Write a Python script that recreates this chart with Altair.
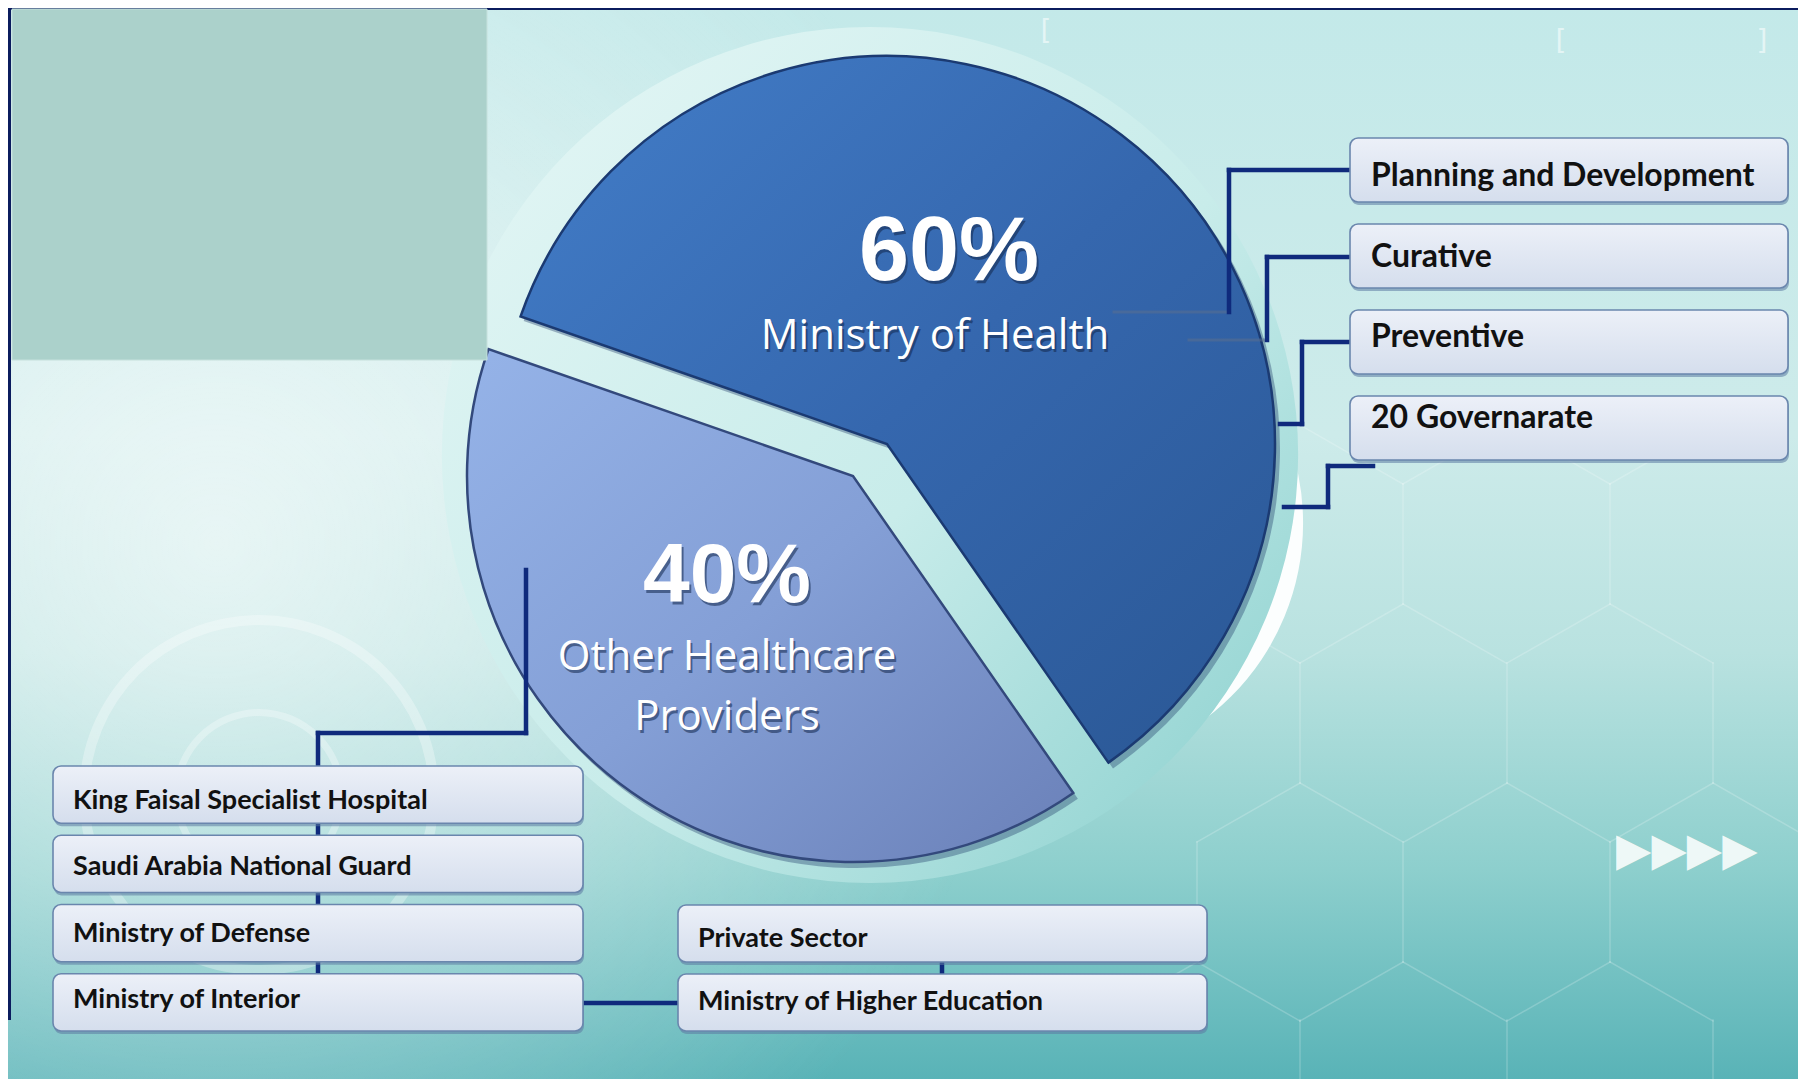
import math
import altair as alt
import pandas as pd

# ---------------- data ----------------
shares = [60, 40]
sectors = ["Ministry of Health", "Other Healthcare Providers"]
sector_labels = ["Ministry of Health", "Other Healthcare\nProviders"]
moh_units = ["Planning and Development", "Curative", "Preventive", "20 Governarate"]
other_main = ["King Faisal Specialist Hospital", "Saudi Arabia National Guard",
              "Ministry of Defense", "Ministry of Interior"]
other_side = ["Private Sector", "Ministry of Higher Education"]

# ---------------- helpers ----------------
OFF = 8
W, H = 1790, 1071
NAVY = "#0f2a7c"
BOX_FONT = "Lato"


def fx(v):
    return v - OFF


one = alt.Data(values=[{"k": 0}])


def lin(stops, x1=0, y1=0, x2=0, y2=1):
    return alt.LinearGradient(gradient="linear", x1=x1, y1=y1, x2=x2, y2=y2,
                              stops=[alt.GradientStop(offset=o, color=c) for o, c in stops])


def rad(stops, cx, cy, r):
    return alt.RadialGradient(gradient="radial", x1=cx, y1=cy, r1=0, x2=cx, y2=cy, r2=r,
                              stops=[alt.GradientStop(offset=o, color=c) for o, c in stops])


def rect(x1, y1, x2, y2, **mark):
    return alt.Chart(one).mark_rect(**mark).encode(
        x=alt.value(fx(x1)), x2=alt.value(fx(x2)), y=alt.value(fx(y1)), y2=alt.value(fx(y2)))


def seg(x1, y1, x2, y2, color=NAVY, w=4.5, op=1.0):
    return alt.Chart(one).mark_rule(color=color, strokeWidth=w, opacity=op, strokeCap="square").encode(
        x=alt.value(fx(x1)), x2=alt.value(fx(x2)), y=alt.value(fx(y1)), y2=alt.value(fx(y2)))


def disc(cx, cy, r, r0=0, **mark):
    return alt.Chart(one).mark_arc(radius=r, radius2=r0, theta=0, theta2=2 * math.pi, **mark).encode(
        x=alt.value(fx(cx)), y=alt.value(fx(cy)))


def glyph(ch, x, y, fs, op):
    return alt.Chart(one).mark_text(text=ch, fontSize=fs, color="white", opacity=op,
                                    font="DejaVu Sans", align="center", baseline="middle").encode(
        x=alt.value(fx(x)), y=alt.value(fx(y)))


layers = []

# ---------------- background ----------------
layers.append(rect(0, 0, 1806, 1087, fill=lin([(0, "#c3e9e9"), (0.4, "#cdebea"), (0.6, "#b9e2e0"),
                                              (0.8, "#8dcfcd"), (1, "#57b2b6")])))
layers.append(rect(0, 0, 1806, 1087, fill=rad([(0, "rgba(255,255,255,0.6)"), (1, "rgba(255,255,255,0)")],
                                              0.12, 0.5, 0.45)))

# faint hexagon texture, lower right
HEX_OP = 0.2
hex_rows = [(484, 604, [1197, 1403, 1610]), (663, 783, [1300, 1507, 1713]),
            (842, 962, [1197, 1403, 1610]), (1020, 1141, [1300, 1507, 1713])]
for ytop, ybot, xs in hex_rows:
    for xv in xs:
        layers.append(seg(xv, ytop, xv, ybot, color="white", w=1.5, op=HEX_OP))
        layers.append(seg(xv, ybot, xv - 103, ybot + 59, color="white", w=1.5, op=HEX_OP))
        layers.append(seg(xv, ybot, xv + 103, ybot + 59, color="white", w=1.5, op=HEX_OP))
for xv in [1197, 1403, 1610]:
    layers.append(seg(xv, 484, xv - 103, 425, color="white", w=1.5, op=HEX_OP))
    layers.append(seg(xv, 484, xv + 103, 425, color="white", w=1.5, op=HEX_OP))

# navy frame
layers.append(rect(0, 0, 1806, 10, fill="#0b1c5e"))
layers.append(rect(0, 0, 11, 1020, fill="#0b1c5e"))

# decorative rings bottom-left
layers.append(disc(259, 795, 180, 170, fill="white", opacity=0.3))
layers.append(disc(259, 795, 86, 79, fill="white", opacity=0.3))

# bracket ornaments at top
layers.append(glyph("[", 1046, 32, 28, 0.55))
layers.append(glyph("[", 1561, 42, 28, 0.55))
layers.append(glyph("]", 1762, 42, 28, 0.55))

# ---------------- pie backdrop ----------------
layers.append(disc(1058, 523, 245, fill="#ffffff", opacity=0.95))
layers.append(disc(870, 455, 428, fill=lin([(0, "#e6f7f6"), (0.55, "#c8ecea"), (1, "#86cecc")],
                                          x1=0, y1=0, x2=1, y2=1)))

# ---------------- pie slices ----------------
starts, ends, acc = [], [], 0
for s in shares:
    starts.append(acc)
    acc += s
    ends.append(acc)
pie_df = pd.DataFrame({"sector": sectors, "share": shares, "start": starts, "end": ends,
                       "pct": [f"{s}%" for s in shares], "label": sector_labels})

a0 = math.radians(289.2)
theta_scale = alt.Scale(domain=[0, 100], range=[a0, a0 + 2 * math.pi])

slice_cfg = [
    (sectors[0], 887, 444, 388,
     lin([(0, "#437ec9"), (0.5, "#3567ae"), (1, "#2a5794")], x1=0, y1=0, x2=1, y2=1), "#1b3a72"),
    (sectors[1], 853, 476, 386,
     lin([(0, "#95b3e8"), (0.5, "#849fd6"), (1, "#6a80b8")], x1=0, y1=0, x2=1, y2=1), "#33497c"),
]
for name, cx, cy, r, grad, edge in slice_cfg:
    base = alt.Chart(pie_df).transform_filter(alt.datum.sector == name)
    layers.append(base.mark_arc(radius=r + 1, fill="#173060", opacity=0.35).encode(
        theta=alt.Theta("start:Q", scale=theta_scale), theta2="end:Q",
        x=alt.value(fx(cx + 4)), y=alt.value(fx(cy + 5))))
    layers.append(base.mark_arc(radius=r, fill=grad, stroke=edge, strokeWidth=2.5).encode(
        theta=alt.Theta("start:Q", scale=theta_scale), theta2="end:Q",
        x=alt.value(fx(cx)), y=alt.value(fx(cy))))

# faint connector continuations inside the pie
FAINT = "#5a6f8f"
layers += [
    seg(1114, 312, 1229, 312, color=FAINT, w=3, op=0.55),
    seg(1189, 340, 1267, 340, color=FAINT, w=3, op=0.55),
]

# ---------------- connectors ----------------
layers += [
    seg(1350, 170, 1229, 170), seg(1229, 170, 1229, 312),
    seg(1350, 257, 1267, 257), seg(1267, 257, 1267, 340),
    seg(1350, 342, 1302, 342), seg(1302, 342, 1302, 424), seg(1280, 424, 1302, 424),
    seg(1373, 466, 1328, 466), seg(1328, 466, 1328, 507), seg(1284, 507, 1328, 507),
    seg(526, 570, 526, 733), seg(318, 733, 526, 733), seg(318, 733, 318, 978),
    seg(583, 1003, 678, 1003), seg(942, 955, 942, 980),
]

# ---------------- boxes ----------------
BOX_FILL = lin([(0, "#ecf0f8"), (1, "#d5deed")])


def box_group(labels, field, y0, y1, x0, x1, tx, fs, pad, dy):
    df = pd.DataFrame({field: labels})
    sc = alt.Scale(domain=labels, range=[fx(y0), fx(y1)], paddingInner=pad, paddingOuter=0)
    yenc = alt.Y(f"{field}:N", scale=sc, axis=None)
    shadow = alt.Chart(df).mark_rect(cornerRadius=8, fill="#5d7aa3", opacity=0.55, yOffset=3).encode(
        y=yenc, x=alt.value(fx(x0) + 1), x2=alt.value(fx(x1) + 1))
    box = alt.Chart(df).mark_rect(cornerRadius=8, fill=BOX_FILL, stroke="#6a86ad", strokeWidth=1.6).encode(
        y=yenc, x=alt.value(fx(x0)), x2=alt.value(fx(x1)))
    txt = alt.Chart(df).mark_text(align="left", baseline="middle", font=BOX_FONT, fontSize=fs,
                                  fontWeight="bold", color="#111111", dy=dy).encode(
        y=yenc, x=alt.value(fx(tx)), text=f"{field}:N")
    return [shadow, box, txt]


layers += box_group(moh_units, "unit", 138, 460, 1350, 1788, 1371, 32, 0.256, -2)
layers += box_group(other_main, "org", 766, 1031, 53, 583, 73, 27, 0.174, 2)
layers += box_group(other_side, "org2", 905, 1031, 678, 1207, 698, 27, 0.174, 2)

# ---------------- grey panel top-left ----------------
layers.append(rect(12, 9, 487, 360, fill="#abd1cb", stroke="#c5e0dc", strokeWidth=1))

# ---------------- pie labels ----------------
label_cfg = [
    (sectors[0], 949, 280, 90, 935, 336, 42),
    (sectors[1], 727, 602, 84, 727, 657, 42),
]
for name, px, py, pfs, lx, ly, lfs in label_cfg:
    base = alt.Chart(pie_df).transform_filter(alt.datum.sector == name)
    for dx, dy, col, op in [(2, 3, "#13284d", 0.55), (0, 0, "#ffffff", 1.0)]:
        layers.append(base.mark_text(align="center", baseline="alphabetic", font="Liberation Sans",
                                     fontWeight="bold", fontSize=pfs, color=col, opacity=op).encode(
            x=alt.value(fx(px + dx)), y=alt.value(fx(py + dy)), text="pct:N"))
        layers.append(base.mark_text(align="center", baseline="middle", font="Open Sans",
                                     fontSize=lfs, color=col, opacity=op, lineBreak="\n",
                                     lineHeight=60).encode(
            x=alt.value(fx(lx + dx)), y=alt.value(fx(ly + dy)), text="label:N"))

# ---------------- decorative arrows ----------------
layers.append(alt.Chart(one).mark_text(text="▶▶▶▶", font="DejaVu Sans", fontSize=46, color="white",
                                       opacity=0.85, align="left", baseline="middle").encode(
    x=alt.value(fx(1616)), y=alt.value(fx(851))))

chart = alt.layer(*layers).properties(
    width=W, height=H, padding=0, autosize="none", background="white"
).resolve_scale(y="independent").configure_view(stroke=None)

chart.save("out.html", embed_options={"renderer": "svg", "actions": False})
